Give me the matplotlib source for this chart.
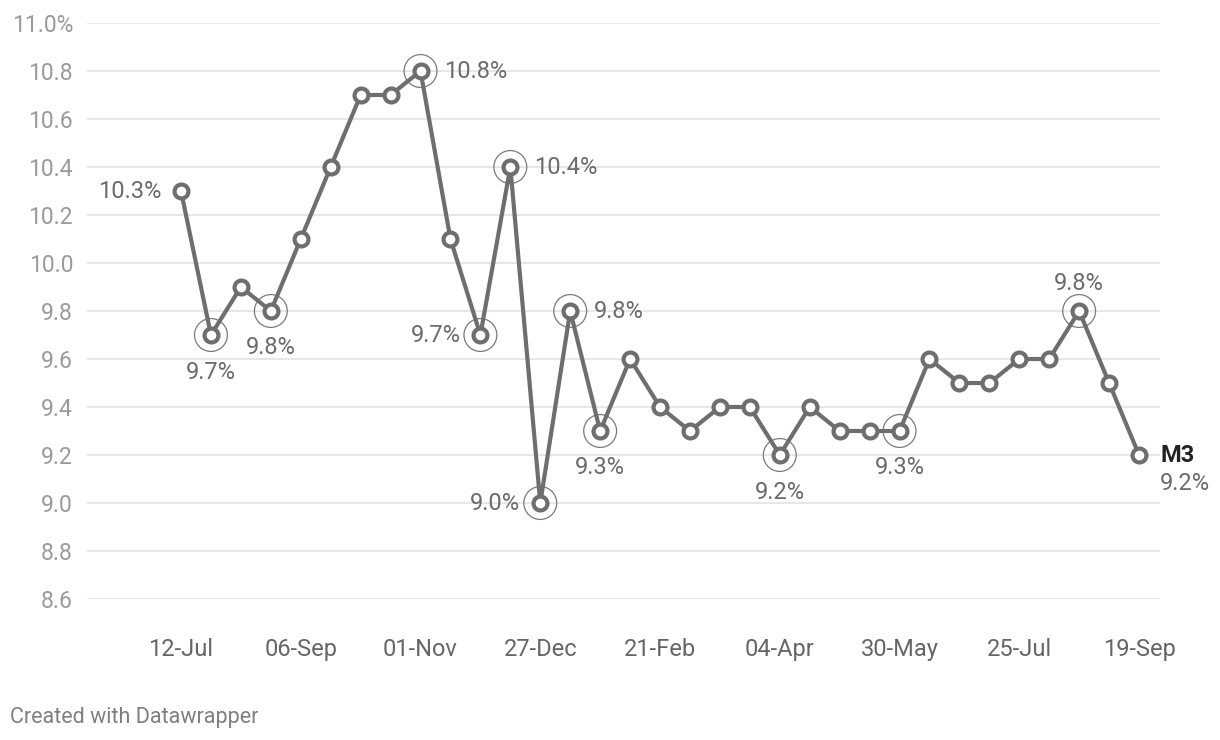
import numpy as np
import matplotlib.pyplot as plt

plt.rcParams['font.family'] = ['Roboto', 'DejaVu Sans']

#----------------------------Data---------------------------------------
values = [10.3, 9.7, 9.9, 9.8, 10.1, 10.4, 10.7, 10.7, 10.8, 10.1, 9.7,
          10.4, 9.0, 9.8, 9.3, 9.6, 9.4, 9.3, 9.4, 9.4, 9.2, 9.4,
          9.3, 9.3, 9.3, 9.6, 9.5, 9.5, 9.6, 9.6, 9.8, 9.5, 9.2]
tick_pos = [0, 4, 8, 12, 16, 20, 24, 28, 32]
tick_labels = ['12-Jul', '06-Sep', '01-Nov', '27-Dec', '21-Feb',
               '04-Apr', '30-May', '25-Jul', '19-Sep']
yticks = [8.6, 8.8, 9.0, 9.2, 9.4, 9.6, 9.8, 10.0, 10.2, 10.4, 10.6, 10.8, 11.0]

# highlighted points (index, label position)
highlights = [1, 3, 8, 10, 11, 12, 13, 14, 20, 24, 30]
labels = [(0, 'left'), (1, 'below'), (3, 'below'), (8, 'right'), (10, 'left'),
          (11, 'right'), (12, 'left'), (13, 'right'), (14, 'below'),
          (20, 'below'), (24, 'below'), (30, 'above')]

#----------------------------Plot---------------------------------------
fig = plt.figure(figsize=(12.2, 7.4), dpi=100)
ax = fig.add_axes([87/1220, 1-599/740, (1160-87)/1220, (599-23)/740])

x = np.arange(len(values))
line_col = '#6e6e6e'

ax.plot(x, values, color=line_col, lw=3, zorder=3)
ax.scatter(x[highlights], np.array(values)[highlights], s=560, facecolor='none',
           edgecolor='#7a7a7a', lw=0.9, zorder=2)
ax.plot(x, values, ls='none', marker='o', ms=10, mfc='white', mec=line_col,
        mew=3, zorder=4)

offsets = {'left': (-20, 0, 'right', 'center'), 'right': (24, 0, 'left', 'center'),
           'below': (0, -37, 'center', 'center'), 'above': (0, 28, 'center', 'center')}
for i, pos in labels:
    dx, dy, ha, va = offsets[pos]
    ax.annotate(f'{values[i]:.1f}%', (x[i], values[i]), xytext=(dx, dy),
                textcoords='offset pixels', ha=ha, va=va, fontsize=17, color='#6b6b6b')

last = len(values) - 1
ax.annotate('M3', (x[last], values[last]), xytext=(21, 0), textcoords='offset pixels',
            ha='left', va='center', fontsize=17, fontweight='bold', color='#222222')
ax.annotate(f'{values[last]:.1f}%', (x[last], values[last]), xytext=(21, -28),
            textcoords='offset pixels', ha='left', va='center', fontsize=17, color='#6b6b6b')

ax.set_xlim(-3.14, 32.70)
ax.set_ylim(8.6, 11.0)
ax.set_yticks(yticks)
ax.set_yticklabels([f'{v:.1f}%' if v == 11.0 else f'{v:.1f}' for v in yticks])
ax.set_xticks(tick_pos)
ax.set_xticklabels(tick_labels)
ax.tick_params(axis='y', length=0, pad=10, labelsize=16.5, labelcolor='#9a9a9a')
ax.tick_params(axis='x', length=0, pad=28, labelsize=17, labelcolor='#666666')
ax.grid(axis='y', color='#e3e3e3', lw=1.2)
ax.set_axisbelow(True)
for s in ax.spines.values():
    s.set_visible(False)

fig.text(10/1220, 1-717/740, 'Created with Datawrapper', fontsize=15.5,
         color='#7f7f7f', ha='left', va='center')

fig.savefig('out.png', dpi=100)
